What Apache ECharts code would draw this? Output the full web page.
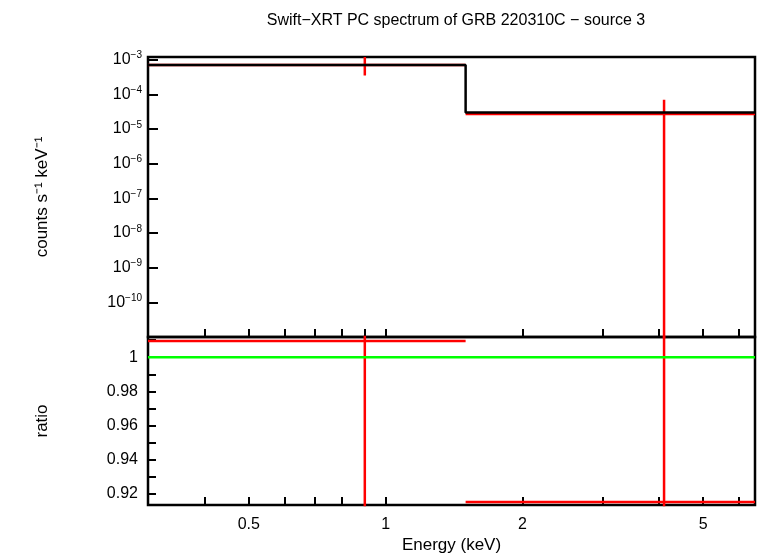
<!DOCTYPE html>
<html><head><meta charset="utf-8">
<script src="https://cdn.jsdelivr.net/npm/echarts@6/dist/echarts.min.js"></script>
<style>html,body{margin:0;padding:0;background:#fff}#chart{width:758px;height:556px}</style>
</head><body><div id="chart"></div>
<script>
// energy bins (keV)
var binLo = [0.3, 1.5];
var binHi = [1.5, 6.5];
var binCenter = [0.9, 4.1];
// spectrum (counts/s/keV)
var modelVals = [7e-4, 3e-5];
var dataVals = [7e-4, 2.7e-5];
var dataErrLo = [3.5e-4, 1e-12];
var dataErrHi = [1.2e-3, 7e-5];
// ratio
var ratioVals = [1.0094, 0.9153];
var ratioErrLo = [0.90, 0.90];
var ratioErrHi = [1.02, 1.02];
var xTicks = [0.5, 1, 2, 5];
var xMinor = [0.3, 0.4, 0.6, 0.7, 0.8, 0.9, 3, 4, 6];
var yTicks = [-10, -9, -8, -7, -6, -5, -4, -3];
var ratioTicks = [0.92, 0.94, 0.96, 0.98, 1];

var L = Math.log10;
var chart = echarts.init(document.getElementById('chart'));
var series = [];
function seg(pts, color, xi, yi) {
  series.push({type: 'line', xAxisIndex: xi, yAxisIndex: yi, data: pts, showSymbol: false,
    lineStyle: {color: color, width: 2.5}, silent: true, animation: false, clip: true});
}
// model step line
var step = [];
for (var i = 0; i < binLo.length; i++) {
  step.push([L(binLo[i]), L(modelVals[i])], [L(binHi[i]), L(modelVals[i])]);
}
for (var i = 0; i < binLo.length; i++) {
  seg([[L(binLo[i]), L(dataVals[i])], [L(binHi[i]), L(dataVals[i])]], '#ff0000', 0, 0);
  seg([[L(binCenter[i]), L(dataErrLo[i])], [L(binCenter[i]), L(dataErrHi[i])]], '#ff0000', 0, 0);
  seg([[L(binLo[i]), ratioVals[i]], [L(binHi[i]), ratioVals[i]]], '#ff0000', 1, 1);
  seg([[L(binCenter[i]), ratioErrLo[i]], [L(binCenter[i]), ratioErrHi[i]]], '#ff0000', 1, 1);
}
seg(step, '#000000', 0, 0);
seg([[L(0.3), 1], [L(6.5), 1]], '#00ff00', 1, 1);

var font = 'Liberation Sans';
var sup = {fontSize: 10, verticalAlign: 'top', padding: [0, 0, 8, 0], color: '#000', fontFamily: font};
function xAx(idx, labels) {
  return {type: 'value', gridIndex: idx, min: L(0.3), max: L(6.5),
    axisLine: {show: false, onZero: false}, splitLine: {show: false},
    axisTick: {show: true, inside: true, length: 8, lineStyle: {color: '#000', width: 2},
      customValues: xTicks.map(L).concat(xMinor.map(L))},
    axisLabel: {show: labels, customValues: xTicks.map(L), color: '#000', fontSize: 16,
      fontFamily: font, margin: 12,
      formatter: function (v) { return String(+Math.pow(10, v).toPrecision(3)); }}};
}
chart.setOption({
  animation: false,
  title: {text: 'Swift\u2212XRT PC spectrum of GRB 220310C \u2212 source 3', left: 451, top: 8,
    textAlign: 'center', textStyle: {fontSize: 16, fontWeight: 'normal', color: '#000', fontFamily: font}},
  grid: [
    {left: 148, top: 57, width: 607, height: 280, show: true, borderColor: '#000', borderWidth: 2.5, backgroundColor: 'transparent'},
    {left: 148, top: 337, width: 607, height: 168, show: true, borderColor: '#000', borderWidth: 2.5, backgroundColor: 'transparent'}
  ],
  xAxis: [xAx(0, false), Object.assign(xAx(1, true), {
    name: 'Energy (keV)', nameLocation: 'middle', nameGap: 32,
    nameTextStyle: {fontSize: 17, color: '#000', fontFamily: font}})],
  yAxis: [
    {type: 'value', gridIndex: 0, min: -11, max: L(1.2e-3),
      axisLine: {show: false, onZero: false}, splitLine: {show: false},
      axisTick: {show: true, inside: true, length: 10, lineStyle: {color: '#000', width: 2}, customValues: yTicks},
      axisLabel: {customValues: yTicks, color: '#000', fontSize: 16, fontFamily: font, margin: 6,
        formatter: function (v) { return '10{s|\u2212' + Math.round(-v) + '}'; }, rich: {s: sup}},
      name: 'counts s\u207b\u00b9 keV\u207b\u00b9', nameLocation: 'middle', nameGap: 97, nameRotate: 90,
      nameTextStyle: {fontSize: 17, color: '#000', fontFamily: font}},
    {type: 'value', gridIndex: 1, min: 0.9135, max: 1.0118,
      axisLine: {show: false, onZero: false}, splitLine: {show: false},
      axisTick: {show: true, inside: true, length: 8, lineStyle: {color: '#000', width: 2},
        customValues: [0.92, 0.93, 0.94, 0.95, 0.96, 0.97, 0.98, 0.99, 1, 1.01]},
      axisLabel: {customValues: ratioTicks, color: '#000', fontSize: 16, fontFamily: font, margin: 10,
        formatter: function (v) { return String(+v.toFixed(2)); }},
      name: 'ratio', nameLocation: 'middle', nameGap: 97, nameRotate: 90,
      nameTextStyle: {fontSize: 17, color: '#000', fontFamily: font}}
  ],
  series: series
});
</script></body></html>
